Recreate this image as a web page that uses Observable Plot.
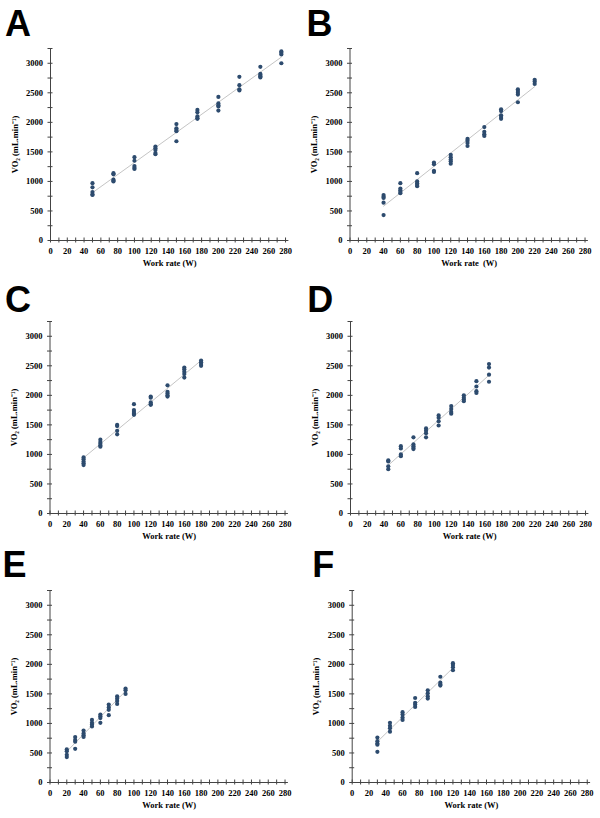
<!DOCTYPE html>
<html><head><meta charset="utf-8">
<script src="https://cdn.jsdelivr.net/npm/d3@7"></script>
<script src="https://cdn.jsdelivr.net/npm/@observablehq/plot@0.6"></script>
<style>
body{margin:0;background:#fff;}
#wrap{position:relative;width:600px;height:818px;overflow:hidden;background:#fff;}
#wrap svg{position:absolute;}
</style></head><body><div id="wrap"></div>
<script>
// ---- data (work rate W, VO2 mL.min-1) ----
const workA = [50, 75, 100, 125, 150, 175, 200, 225, 250, 275];
const vo2A = [
  [970, 900, 820, 780, 770], [1140, 1120, 1030, 1010, 1000], [1410, 1350, 1260, 1230, 1210],
  [1590, 1560, 1530, 1480, 1460], [1970, 1900, 1870, 1850, 1680], [2210, 2170, 2100, 2070, 2060],
  [2430, 2320, 2290, 2270, 2200], [2770, 2630, 2560, 2540], [2940, 2820, 2800, 2780, 2760],
  [3200, 3180, 3150, 3000]
];
const workB = [40, 60, 80, 100, 120, 140, 160, 180, 200, 220];
const vo2B = [
  [770, 740, 720, 640, 430], [970, 880, 850, 820, 800], [1140, 1000, 970, 940, 920],
  [1320, 1290, 1180, 1160], [1450, 1410, 1370, 1340, 1300], [1720, 1690, 1650, 1600],
  [1920, 1840, 1800, 1770], [2220, 2190, 2120, 2090, 2060], [2560, 2530, 2500, 2470, 2340],
  [2720, 2690, 2650]
];
const workC = [40, 60, 80, 100, 120, 140, 160, 180];
const vo2C = [
  [950, 920, 880, 850, 820], [1250, 1210, 1180, 1150, 1130], [1500, 1480, 1400, 1340],
  [1850, 1750, 1720, 1690, 1670], [1980, 1960, 1880, 1850, 1840], [2170, 2060, 2030, 2000, 1980],
  [2470, 2440, 2400, 2360, 2300], [2590, 2560, 2530, 2500]
];
const workD = [45, 60, 75, 90, 105, 120, 135, 150, 165];
const vo2D = [
  [900, 880, 800, 750], [1140, 1100, 1000, 970], [1290, 1170, 1140, 1110, 1090],
  [1440, 1400, 1360, 1290], [1660, 1620, 1560, 1490], [1820, 1770, 1720, 1690],
  [2000, 1960, 1930, 1900], [2240, 2150, 2070, 2040], [2530, 2470, 2350, 2230]
];
const workE = [20, 30, 40, 50, 60, 70, 80, 90];
const vo2E = [
  [560, 530, 470, 430], [770, 720, 690, 570], [880, 830, 800, 770], [1060, 1010, 980, 950],
  [1150, 1120, 1090, 1010], [1320, 1270, 1230, 1140], [1460, 1420, 1380, 1330], [1590, 1560, 1500]
];
const workF = [30, 45, 60, 75, 90, 105, 120];
const vo2F = [
  [760, 700, 660, 640, 520], [1010, 960, 920, 860], [1190, 1150, 1100, 1060],
  [1430, 1350, 1320, 1280], [1560, 1510, 1460, 1420], [1790, 1690, 1660, 1640], [2020, 1990, 1950, 1900]
];

const letters = ["A", "B", "C", "D", "E", "F"];
const xLabels = ["Work rate (W)", "Work rate\u00a0 (W)", "Work rate (W)", "Work rate (W)", "Work rate (W)", "Work rate (W)"];
const yLabel = "VO\u2082 (mL.min\u207B\u00B9)";
const xTickLabels = [0, 20, 40, 60, 80, 100, 120, 140, 160, 180, 200, 220, 240, 260, 280];
const xMinorTicks = [0,10,20,30,40,50,60,70,80,90,100,110,120,130,140,150,160,170,180,190,200,210,220,230,240,250,260,270,280];
const yTickLabels = [0, 500, 1000, 1500, 2000, 2500, 3000];
const yMinorTicks = [0, 250, 500, 750, 1000, 1250, 1500, 1750, 2000, 2250, 2500, 2750, 3000, 3250];

const works = [workA, workB, workC, workD, workE, workF];
const vo2s = [vo2A, vo2B, vo2C, vo2D, vo2E, vo2F];

// layout of the 6 panels
const layout = [
  {left: 0,   top: 0,     ml: 50,   lx: 5,    ly: 36},
  {left: 300, top: 0,     ml: 49.5, lx: 6.5,  ly: 36},
  {left: 0,   top: 272.7, ml: 49.5, lx: 5,    ly: 39},
  {left: 300, top: 272.7, ml: 50,   lx: 7.3,  ly: 39},
  {left: 0,   top: 542.3, ml: 49.5, lx: 2.5,  ly: 35},
  {left: 300, top: 542.3, ml: 51.7, lx: 12.3, ly: 35}
];

const axisColor = "#444";
const dotColor = "#2d4b6e";
const wrap = document.getElementById("wrap");

letters.forEach((letter, i) => {
  const rows = [];
  works[i].forEach((w, j) => vo2s[i][j].forEach(v => rows.push({w, v})));
  const L = layout[i];
  const plotW = 238.4;
  const svg = Plot.plot({
    width: 300, height: 275,
    marginTop: 48, marginBottom: 35, marginLeft: L.ml, marginRight: 300 - L.ml - plotW,
    x: {domain: [0, 284]},
    y: {domain: [0, 3250]},
    style: {fontFamily: "'Liberation Serif','Times New Roman',serif", fontSize: "8.5px", fontWeight: "bold", color: "#000", background: "white", overflow: "visible"},
    marks: [
      Plot.ruleY([0], {x1: 0, x2: 284, stroke: axisColor, strokeWidth: 1}),
      Plot.ruleX([0], {y1: 0, y2: 3250, stroke: axisColor, strokeWidth: 1}),
      Plot.ruleY(yMinorTicks, {y: d => d, x1: 0, x2: 0, insetLeft: -2.5, insetRight: -2.5, stroke: axisColor}),
      Plot.ruleX(xMinorTicks, {x: d => d, y1: 0, y2: 0, insetTop: -2.5, insetBottom: -2.5, stroke: axisColor}),
      Plot.axisY({ticks: yTickLabels, tickSize: 0, tickPadding: 7.5, tickFormat: d => String(d), label: yLabel, labelAnchor: "center", labelOffset: 39, labelArrow: "none"}),
      Plot.axisX({ticks: xTickLabels, tickSize: 0, tickPadding: 7, tickFormat: d => String(d), label: xLabels[i], labelAnchor: "center", labelOffset: 25.5, labelArrow: "none"}),
      Plot.linearRegressionY(rows, {x: "w", y: "v", stroke: "#b5b5b5", strokeWidth: 0.8, ci: 0}),
      Plot.dot(rows, {x: "w", y: "v", r: 2.1, fill: dotColor, stroke: "none"})
    ]
  });
  svg.style.left = L.left + "px";
  svg.style.top = L.top + "px";
  d3.select(svg).append("text")
    .attr("x", L.lx).attr("y", L.ly)
    .attr("text-anchor", "start")
    .attr("font-family", "'Liberation Sans', Arial, sans-serif")
    .attr("font-size", 36).attr("font-weight", "bold").attr("fill", "#000")
    .text(letter);
  wrap.appendChild(svg);
});
</script></body></html>
